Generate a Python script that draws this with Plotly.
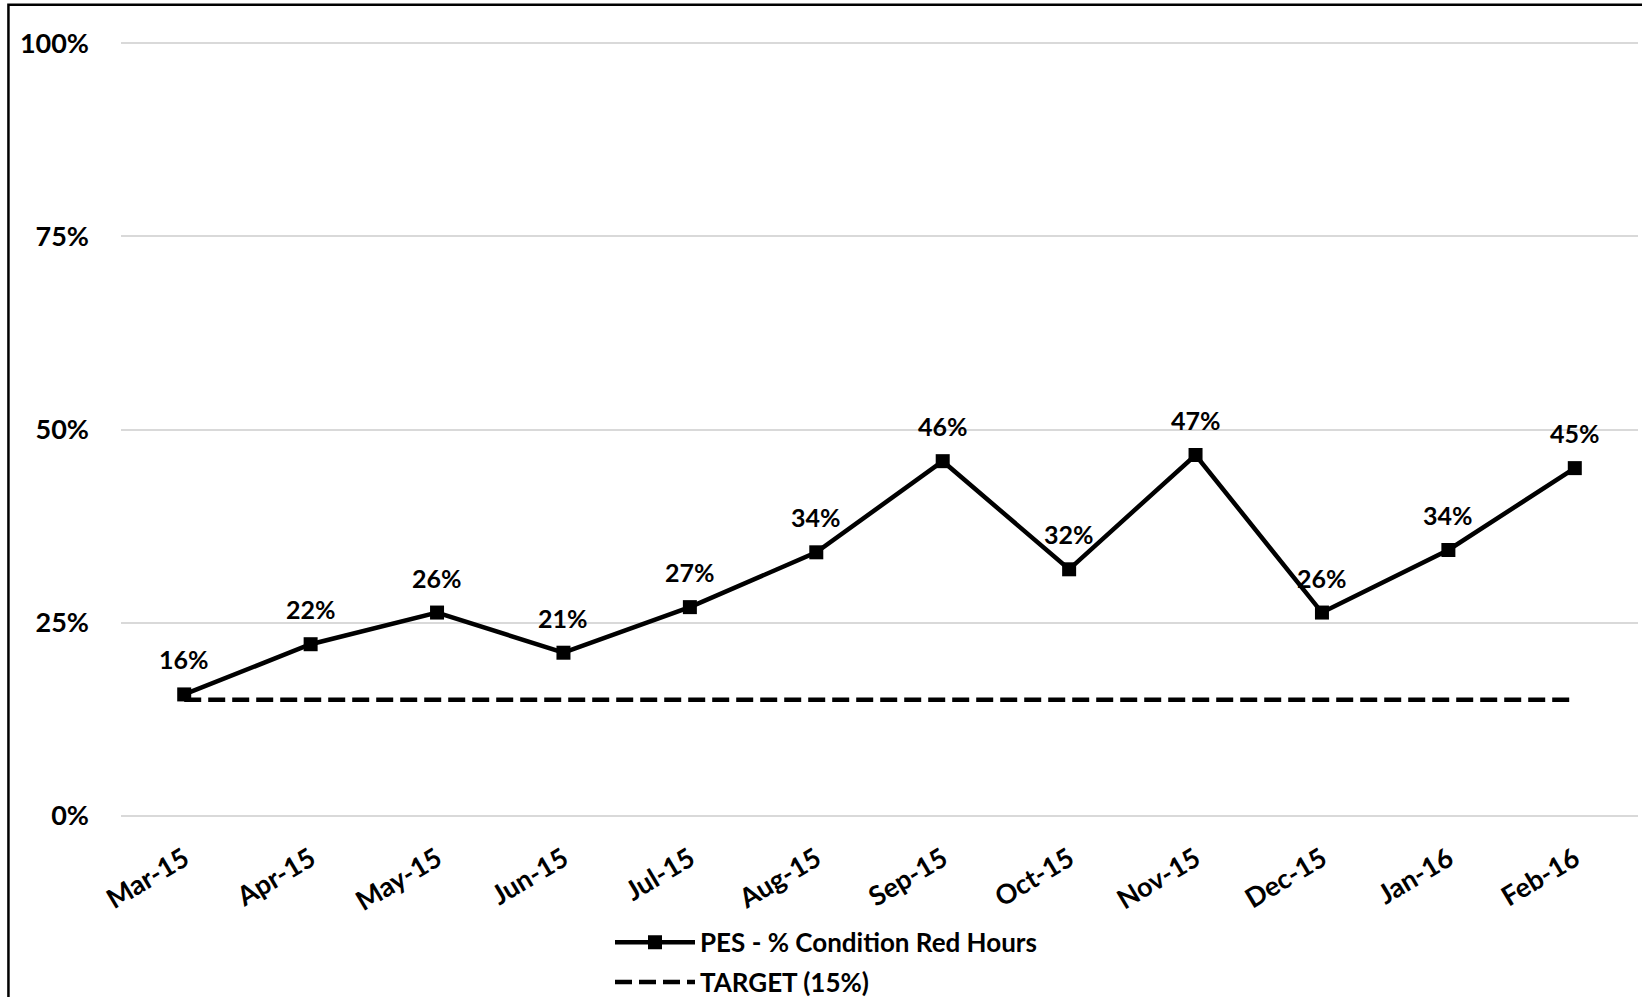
import plotly.graph_objects as go

categories = ["Mar-15", "Apr-15", "May-15", "Jun-15", "Jul-15", "Aug-15",
              "Sep-15", "Oct-15", "Nov-15", "Dec-15", "Jan-16", "Feb-16"]
pes_values = [0.157, 0.222, 0.263, 0.211, 0.270, 0.341,
              0.459, 0.319, 0.467, 0.263, 0.344, 0.450]
target_values = [0.15] * 12
y_ticks = [0, 0.25, 0.5, 0.75, 1.0]
y_tick_labels = ["0%", "25%", "50%", "75%", "100%"]

FONT = "Lato"

fig = go.Figure()
fig.add_trace(go.Scatter(
    x=categories, y=pes_values, mode="lines+markers",
    name="PES - % Condition Red Hours", legendgroup="a",
    line=dict(color="black", width=4.5),
    marker=dict(symbol="square", size=14, color="black"),
))
fig.add_trace(go.Scatter(
    x=categories, y=target_values, mode="lines", name="TARGET (15%)",
    legendgroup="b",
    line=dict(color="black", width=4.5, dash="17px,7px"),
))

for c, v in zip(categories, pes_values):
    fig.add_annotation(x=c, y=v, text=f"{round(v*100):.0f}%", showarrow=False,
                       yanchor="middle", xanchor="center", yshift=35,
                       font=dict(family=FONT, size=25, color="black", weight="bold"))

fig.add_shape(type="rect", xref="paper", yref="paper",
              x0=-0.0742, x1=1.05, y0=-0.4, y1=1.0466,
              line=dict(color="black", width=2.5), fillcolor="rgba(0,0,0,0)", layer="above")

fig.update_layout(
    width=1642, height=997,
    margin=dict(l=121, r=4, t=41, b=179, autoexpand=False),
    paper_bgcolor="white", plot_bgcolor="white",
    font=dict(family=FONT, size=26, color="black", weight="bold"),
    showlegend=True,
    legend=dict(xref="container", yref="container", x=0.3715, y=0.0785,
                xanchor="left", yanchor="top", orientation="v",
                itemwidth=80, tracegroupgap=3,
                font=dict(family=FONT, size=26, color="black", weight="bold"),
                bgcolor="rgba(0,0,0,0)"),
    xaxis=dict(type="category", range=[-0.5, 11.5], showgrid=False, zeroline=False,
               showline=False, ticks="", tickangle=-31, ticklabelstandoff=19,
               automargin=False,
               tickfont=dict(family=FONT, size=27, color="black", weight="bold")),
    yaxis=dict(range=[-0.003, 1.003], tickvals=y_ticks, ticktext=y_tick_labels,
               showgrid=True, gridcolor="#d9d9d9", gridwidth=2, zeroline=False,
               showline=False, ticks="", ticklabelstandoff=31, automargin=False,
               tickfont=dict(family=FONT, size=27, color="black", weight="bold")),
)

fig.write_html("out.html")
